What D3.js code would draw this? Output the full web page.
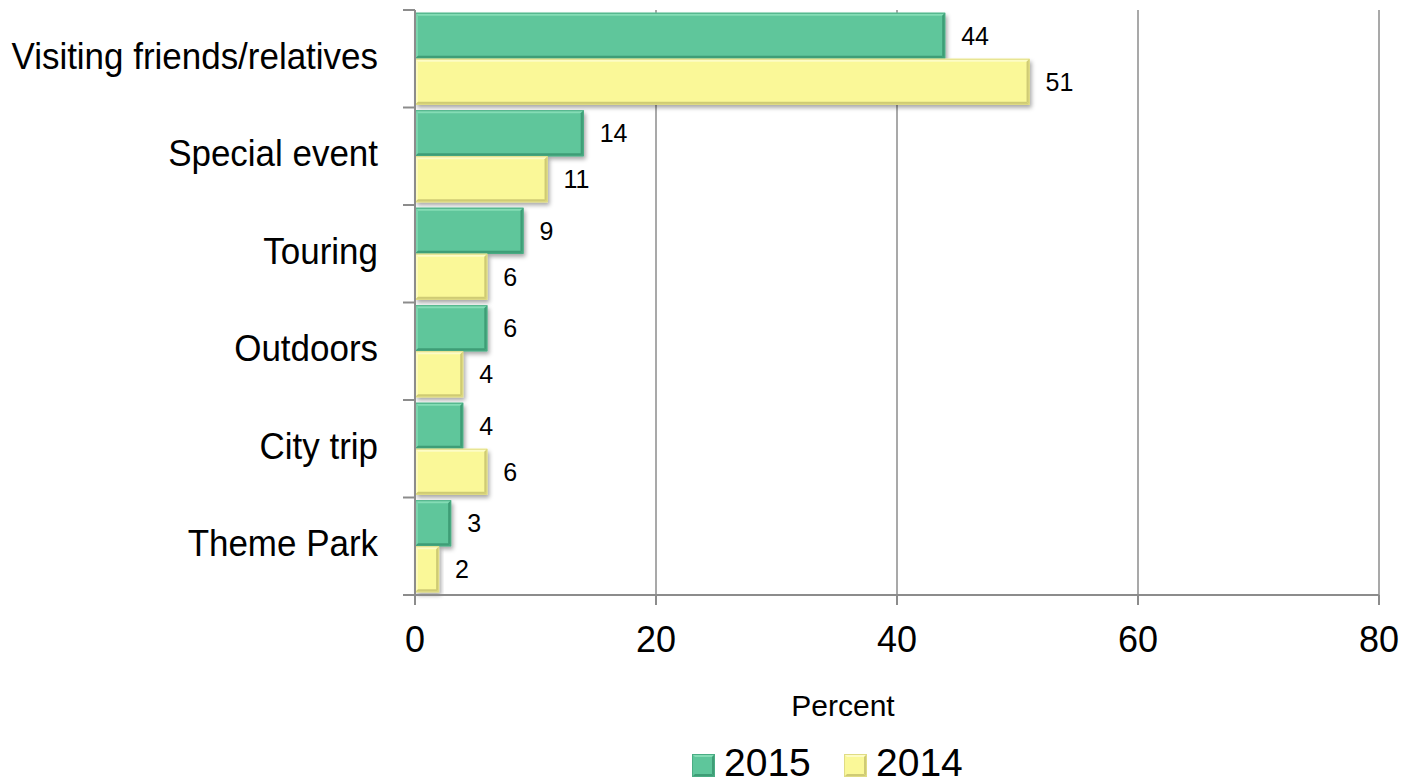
<!DOCTYPE html>
<html>
<head>
<meta charset="utf-8">
<script src="https://cdn.jsdelivr.net/npm/d3@7"></script>
<style>
  html, body { margin: 0; padding: 0; background: #fff; }
  svg { display: block; font-family: "Liberation Sans", Arial, sans-serif; }
</style>
</head>
<body>
<svg id="chart" width="1406" height="784"></svg>
<script>
// Trip purpose shares, percent
const categories = ["Visiting friends/relatives", "Special event", "Touring", "Outdoors", "City trip", "Theme Park"];
const series = ["2015", "2014"];
const values2015 = [44, 14, 9, 6, 4, 3];
const values2014 = [51, 11, 6, 4, 6, 2];
const xTicks = [0, 20, 40, 60, 80];
const axisTitle = "Percent";

const palette = {
  "2015": { fill: "#5ec69b", light: "#84dcb5", dark: "#3e9d76", edge: "#4aad84" },
  "2014": { fill: "#faf898", light: "#fdfcc6", dark: "#cfcb74", edge: "#e0dc84" }
};

const svg = d3.select("#chart");
const plotLeft = 415, plotRight = 1379, plotTop = 10, plotBottom = 595;

const x = d3.scaleLinear().domain([0, 80]).range([plotLeft, plotRight]);
const y = d3.scaleBand().domain(categories).range([plotTop, plotBottom]).paddingInner(0).paddingOuter(0);
const inner = d3.scaleBand().domain(series).range([0, y.bandwidth()]).paddingOuter(0.06).paddingInner(0);

// soft drop shadow under the bars
const defs = svg.append("defs");
const f = defs.append("filter").attr("id", "shadow").attr("x", "-10%").attr("y", "-20%").attr("width", "130%").attr("height", "160%");
f.append("feDropShadow").attr("dx", 2).attr("dy", 3).attr("stdDeviation", 2).attr("flood-color", "#000").attr("flood-opacity", 0.35);

// gridlines
svg.append("g").selectAll("line").data(xTicks.filter(d => d > 0)).join("line")
  .attr("x1", d => x(d)).attr("x2", d => x(d))
  .attr("y1", plotTop).attr("y2", plotBottom)
  .attr("stroke", "#8c8c8c").attr("stroke-width", 1.5);

// bars
const rows = categories.map((c, i) => ({ cat: c, vals: [{ s: "2015", v: values2015[i] }, { s: "2014", v: values2014[i] }] }));
const barG = svg.append("g");
const labelG = svg.append("g");
rows.forEach(r => {
  r.vals.forEach(d => {
    const x0 = x(0), x1 = x(d.v);
    const y0 = y(r.cat) + inner(d.s), h = inner.bandwidth();
    const w = x1 - x0;
    const c = palette[d.s];
    const g = barG.append("g");
    g.append("rect").attr("x", x0).attr("y", y0).attr("width", w).attr("height", h)
      .attr("fill", c.fill).attr("filter", "url(#shadow)");
    const b = 3;
    // bevel: light top and left, dark bottom and right
    g.append("polygon").attr("points", [[x0, y0], [x1, y0], [x1 - b, y0 + b], [x0 + b, y0 + b]].join(" ")).attr("fill", c.light);
    g.append("polygon").attr("points", [[x0, y0], [x0 + b, y0 + b], [x0 + b, y0 + h - b], [x0, y0 + h]].join(" ")).attr("fill", c.light).attr("opacity", 0.7);
    g.append("polygon").attr("points", [[x1, y0], [x1, y0 + h], [x1 - b, y0 + h - b], [x1 - b, y0 + b]].join(" ")).attr("fill", c.dark);
    g.append("polygon").attr("points", [[x0, y0 + h], [x1, y0 + h], [x1 - b, y0 + h - b], [x0 + b, y0 + h - b]].join(" ")).attr("fill", c.dark);
    g.append("rect").attr("x", x0 + 0.5).attr("y", y0 + 0.5).attr("width", w - 1).attr("height", h - 1)
      .attr("fill", "none").attr("stroke", c.edge).attr("stroke-width", 1);
    // value label
    labelG.append("text").attr("x", x1 + 16).attr("y", y0 + h / 2 + 9)
      .attr("font-size", 25).attr("fill", "#000").text(d.v);
  });
});

// axes
const axisColor = "#8c8c8c";
svg.append("line").attr("x1", plotLeft).attr("x2", plotLeft).attr("y1", plotTop).attr("y2", plotBottom + 10)
  .attr("stroke", axisColor).attr("stroke-width", 2);
svg.append("line").attr("x1", plotLeft - 12).attr("x2", plotRight).attr("y1", plotBottom).attr("y2", plotBottom)
  .attr("stroke", axisColor).attr("stroke-width", 2);

// category ticks on the vertical axis
const yBounds = categories.map(c => y(c)).concat([plotBottom]);
svg.append("g").selectAll("line").data(yBounds).join("line")
  .attr("x1", plotLeft - 12).attr("x2", plotLeft).attr("y1", d => d).attr("y2", d => d)
  .attr("stroke", axisColor).attr("stroke-width", 2);

// value ticks below the horizontal axis
svg.append("g").selectAll("line").data(xTicks).join("line")
  .attr("x1", d => x(d)).attr("x2", d => x(d)).attr("y1", plotBottom).attr("y2", plotBottom + 10)
  .attr("stroke", axisColor).attr("stroke-width", 2);

svg.append("g").selectAll("text").data(xTicks).join("text")
  .attr("x", d => x(d)).attr("y", 652).attr("text-anchor", "middle")
  .attr("font-size", 36).attr("fill", "#000").text(d => d);

// category labels, slightly condensed
svg.append("g").selectAll("text").data(categories).join("text")
  .attr("transform", d => `translate(378,${y(d) + y.bandwidth() / 2 + 10}) scale(0.945,1)`)
  .attr("text-anchor", "end")
  .attr("font-size", 37).attr("fill", "#000").text(d => d);

// axis title
svg.append("text").attr("x", 843).attr("y", 716).attr("text-anchor", "middle")
  .attr("font-size", 30).attr("fill", "#000").text(axisTitle);

// legend
const legendItems = [{ s: "2015", x: 692 }, { s: "2014", x: 844 }];
legendItems.forEach(it => {
  const c = palette[it.s];
  const lx = it.x, ly = 754, s = 23, b = 3;
  svg.append("rect").attr("x", lx).attr("y", ly).attr("width", s).attr("height", s).attr("fill", c.fill);
  svg.append("polygon").attr("points", [[lx, ly], [lx + s, ly], [lx + s - b, ly + b], [lx + b, ly + b]].join(" ")).attr("fill", c.light);
  svg.append("polygon").attr("points", [[lx + s, ly], [lx + s, ly + s], [lx + s - b, ly + s - b], [lx + s - b, ly + b]].join(" ")).attr("fill", c.dark);
  svg.append("polygon").attr("points", [[lx, ly + s], [lx + s, ly + s], [lx + s - b, ly + s - b], [lx + b, ly + s - b]].join(" ")).attr("fill", c.dark);
  svg.append("rect").attr("x", lx + 0.5).attr("y", ly + 0.5).attr("width", s - 1).attr("height", s - 1)
    .attr("fill", "none").attr("stroke", c.edge);
  svg.append("text").attr("x", lx + 32).attr("y", 776).attr("font-size", 39).attr("fill", "#000").text(it.s);
});
</script>
</body>
</html>
